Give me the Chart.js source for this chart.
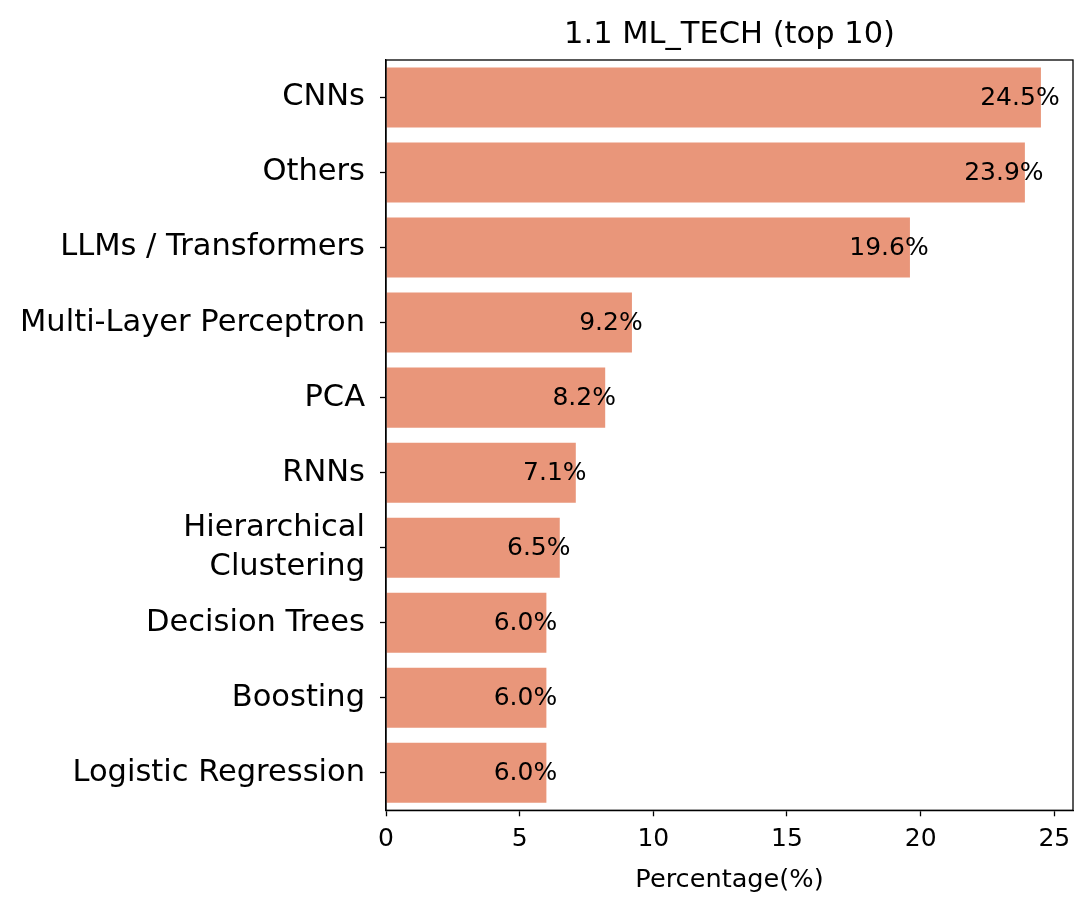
<!DOCTYPE html>
<html>
<head>
<meta charset="utf-8">
<script src="https://cdn.jsdelivr.net/npm/chart.js@4"></script>
<style>
  body { margin: 0; background: #fff; }
</style>
</head>
<body>
<canvas id="chart" width="1092" height="908"></canvas>
<script>
const categories = ['CNNs', 'Others', 'LLMs / Transformers', 'Multi-Layer Perceptron', 'PCA', 'RNNs',
    ['Hierarchical', 'Clustering'], 'Decision Trees', 'Boosting', 'Logistic Regression'];
const percentages = [24.5, 23.9, 19.6, 9.2, 8.2, 7.1, 6.5, 6.0, 6.0, 6.0];
const xTicks = [0, 5, 10, 15, 20, 25];

const FONT = 'DejaVu Sans';

// frame round the plot + title centred over the plot area + value labels
const extras = {
    id: 'extras',
    afterDatasetsDraw(chart) {
        const ctx = chart.ctx;
        const a = chart.chartArea;
        ctx.save();
        ctx.strokeStyle = '#000';
        ctx.lineWidth = 1.3;
        ctx.strokeRect(a.left, a.top, a.right - a.left, a.bottom - a.top);

        ctx.fillStyle = '#000';
        ctx.textAlign = 'center';
        ctx.textBaseline = 'middle';
        ctx.font = '30.5px "' + FONT + '"';
        ctx.fillText('1.1 ML_TECH (top 10)', (a.left + a.right) / 2, 35);

        ctx.font = '25px "' + FONT + '"';
        const meta = chart.getDatasetMeta(0);
        meta.data.forEach((bar, i) => {
            ctx.fillText(percentages[i].toFixed(1) + '%', bar.x - 21, bar.y + 1);
        });
        ctx.restore();
    }
};

new Chart(document.getElementById('chart').getContext('2d'), {
    type: 'bar',
    data: {
        labels: categories,
        datasets: [{
            data: percentages,
            backgroundColor: '#E9967A',
            barPercentage: 0.8,
            categoryPercentage: 1.0
        }]
    },
    options: {
        indexAxis: 'y',
        responsive: false,
        animation: false,
        layout: { padding: { top: 60, right: 19, bottom: 8, left: 0 } },
        plugins: {
            legend: { display: false },
            title: { display: false },
            tooltip: { enabled: false }
        },
        scales: {
            x: {
                min: 0,
                max: 25.7,
                afterBuildTicks: axis => { axis.ticks = xTicks.map(v => ({ value: v })); },
                ticks: {
                    color: '#000',
                    padding: 8,
                    maxRotation: 0,
                    font: { family: FONT, size: 25 }
                },
                grid: { drawOnChartArea: false, tickLength: 6, tickColor: '#000', tickWidth: 1.3 },
                border: { color: '#000', width: 1.3 },
                title: {
                    display: true,
                    text: 'Percentage(%)',
                    color: '#000',
                    font: { family: FONT, size: 25.6 },
                    padding: { top: 3, bottom: 4 }
                }
            },
            y: {
                afterFit: s => { s.width = 386; },
                ticks: {
                    color: '#000',
                    padding: 15,
                    autoSkip: false,
                    font: { family: FONT, size: 30.5, lineHeight: 1.3 }
                },
                grid: { offset: false, drawOnChartArea: false, tickLength: 6, tickColor: '#000', tickWidth: 1.3 },
                border: { color: '#000', width: 1.3 }
            }
        }
    },
    plugins: [extras]
});
</script>
</body>
</html>
